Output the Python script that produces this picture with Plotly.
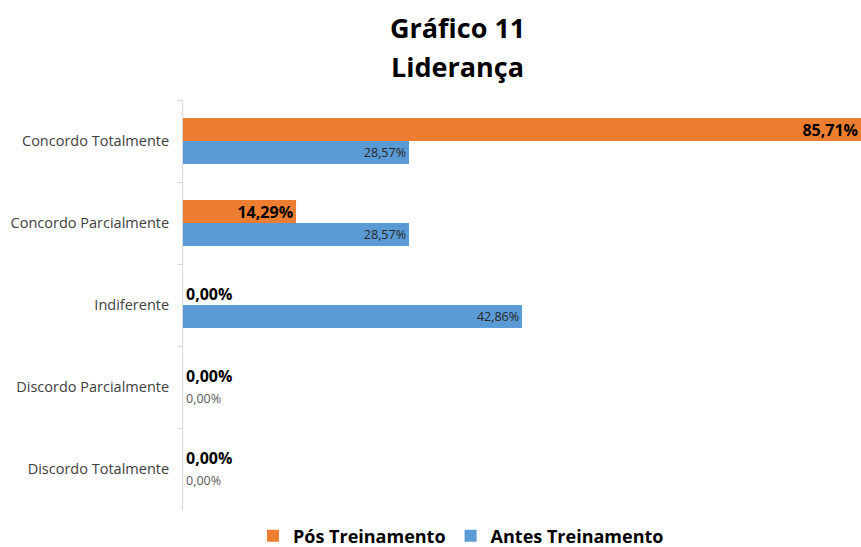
import plotly.graph_objects as go

categorias = ["Concordo Totalmente", "Concordo Parcialmente", "Indiferente",
              "Discordo Parcialmente", "Discordo Totalmente"]
pos_treinamento = [85.71, 14.29, 0.00, 0.00, 0.00]
antes_treinamento = [28.57, 28.57, 42.86, 0.00, 0.00]
titulo = ["Gráfico 11", "Liderança"]


def rotulo(v):
    return f"{v:.2f}".replace(".", ",") + "%"


fonte = "Open Sans"

fig = go.Figure()
fig.add_trace(go.Bar(
    y=categorias, x=pos_treinamento, orientation="h", name="Pós Treinamento",
    marker=dict(color="#ED7D31", line=dict(width=0)),
    text=[rotulo(v) for v in pos_treinamento],
    textposition=["inside" if v > 0 else "outside" for v in pos_treinamento],
    insidetextanchor="end",
    textfont=dict(family=fonte, size=16, color="#000000", weight="bold"),
    cliponaxis=False,
))
fig.add_trace(go.Bar(
    y=categorias, x=antes_treinamento, orientation="h", name="Antes Treinamento",
    marker=dict(color="#5B9BD5", line=dict(width=0)),
    text=[rotulo(v) for v in antes_treinamento],
    textposition=["inside" if v > 0 else "outside" for v in antes_treinamento],
    insidetextanchor="end",
    textfont=dict(family=fonte, size=12.5,
                  color=["#262626" if v > 0 else "#595959" for v in antes_treinamento]),
    cliponaxis=False,
))

# título em duas linhas, como no original
for linha, ypx in zip(titulo, [27, 67]):
    fig.add_annotation(
        text=f"<b>{linha}</b>", showarrow=False,
        xref="paper", yref="paper",
        x=(457 - 183) / 678, y=(510 - ypx) / 410,
        xanchor="center", yanchor="middle",
        font=dict(family=fonte, size=27, color="#000000"),
    )

fig.update_layout(
    width=861, height=547,
    barmode="group", bargap=0.44, bargroupgap=0.0,
    paper_bgcolor="white", plot_bgcolor="white",
    margin=dict(l=183, r=0, t=100, b=37, autoexpand=False),
    font=dict(family=fonte, color="#404040"),
    showlegend=True,
    legend=dict(
        orientation="h", x=0.41, xanchor="center",
        yref="container", y=1 - 536 / 547, yanchor="middle",
        font=dict(family=fonte, size=18, color="#000000", weight="bold"),
        itemwidth=30, tracegroupgap=0,
    ),
)
fig.update_traces(constraintext="none")
fig.update_xaxes(range=[0, 85.71], visible=False, showgrid=False, zeroline=False)
fig.update_yaxes(
    autorange="reversed", showgrid=False, zeroline=False,
    showline=True, linecolor="#D9D9D9", linewidth=1,
    ticks="outside", tickson="boundaries", ticklen=5, tickcolor="#D9D9D9",
    tickfont=dict(family=fonte, size=14.5, color="#404040"),
    ticklabelstandoff=10,
)

fig.write_html("out.html", config={"displayModeBar": False},
               post_script="document.body.style.margin='0';")
